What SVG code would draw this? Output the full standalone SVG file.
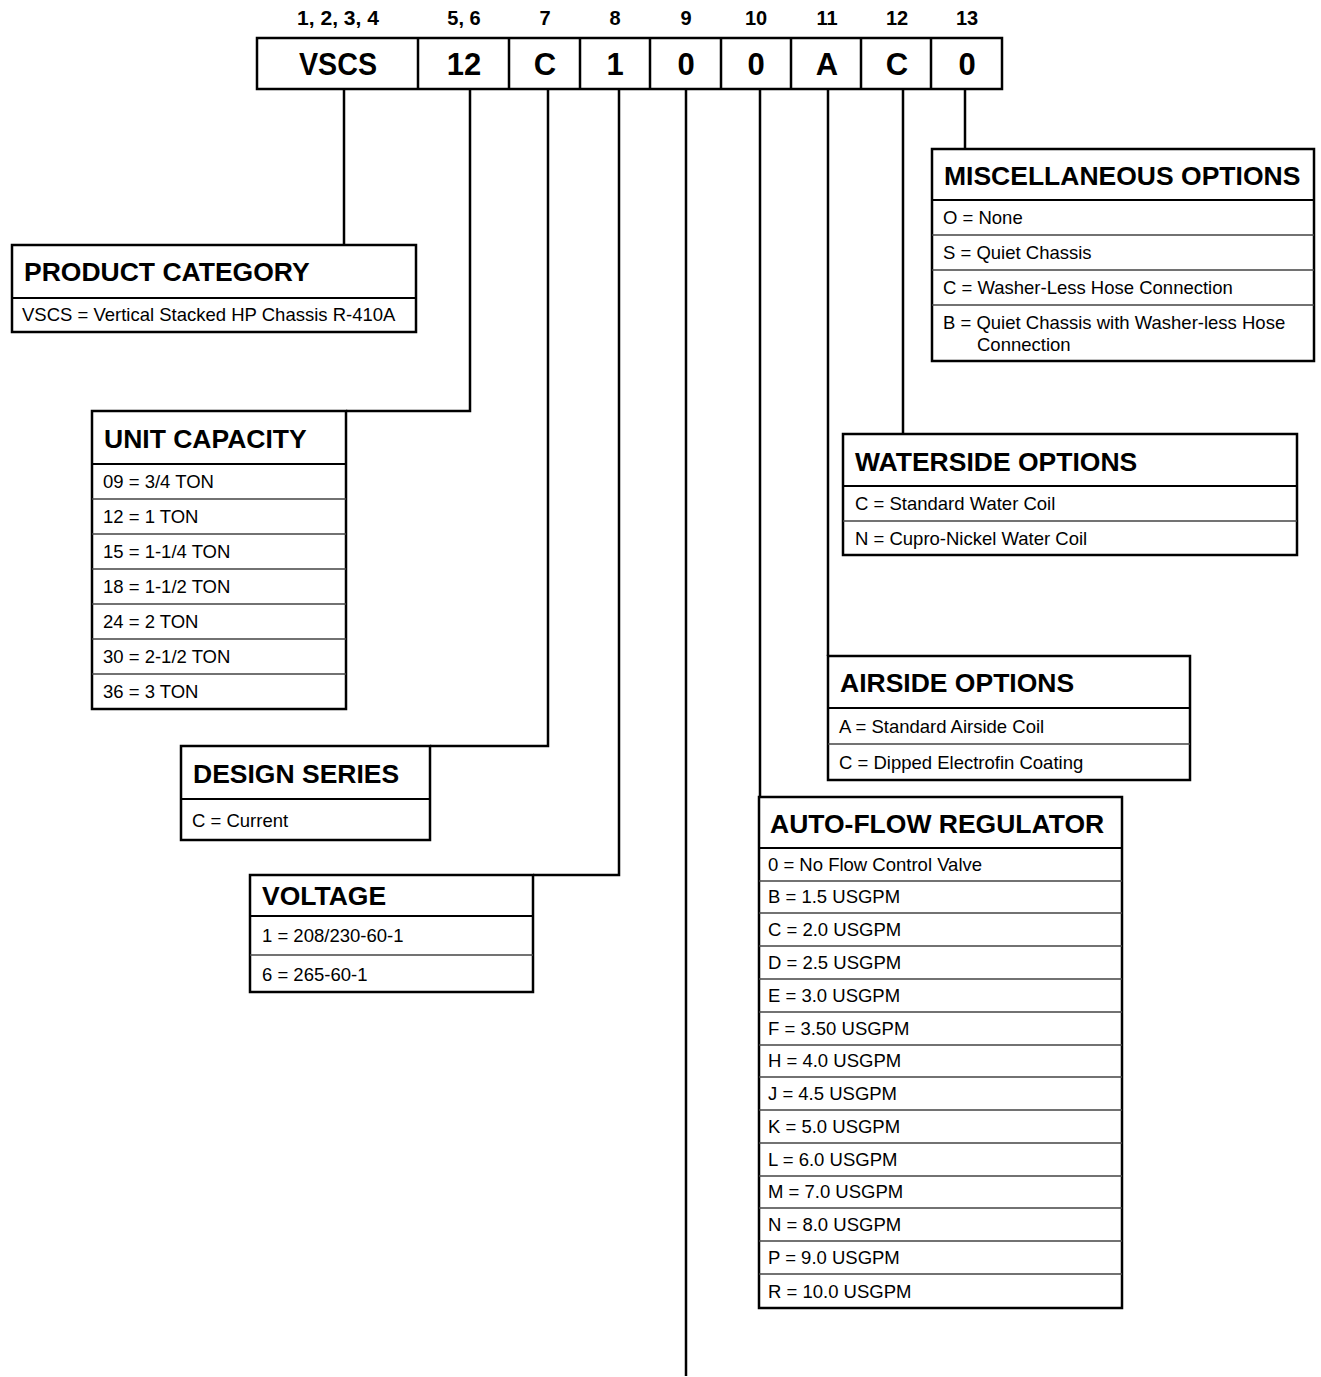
<svg xmlns="http://www.w3.org/2000/svg" width="1321" height="1377" viewBox="0 0 1321 1377">
<style>
text{font-family:"Liberation Sans",Arial,sans-serif;fill:#000}
.pos{font-size:20px;font-weight:bold;text-anchor:middle}
.val{font-size:31px;font-weight:bold;text-anchor:middle}
.ttl{font-size:26.5px;font-weight:bold}
.row{font-size:18.5px}
.box{fill:#fff;stroke:#000;stroke-width:2.5}
.sep{stroke:#000;stroke-width:2}
.div{stroke:#444;stroke-width:1.5}
.con{fill:none;stroke:#000;stroke-width:2.5}
</style>
<rect width="1321" height="1377" fill="#fff"/>
<g id="connectors">
<path class="con" d="M344 89V245"/>
<path class="con" d="M470 89V411H346"/>
<path class="con" d="M548 89V746H430"/>
<path class="con" d="M619 89V875H533"/>
<path class="con" d="M686 89V1376"/>
<path class="con" d="M760 89V797"/>
<path class="con" d="M828 89V656"/>
<path class="con" d="M903 89V434"/>
<path class="con" d="M965 89V149"/>
</g>
<g id="header">
<text class="pos" x="338" y="25" textLength="82" lengthAdjust="spacingAndGlyphs">1, 2, 3, 4</text>
<text class="pos" x="464" y="25">5, 6</text>
<text class="pos" x="545" y="25">7</text>
<text class="pos" x="615" y="25">8</text>
<text class="pos" x="686" y="25">9</text>
<text class="pos" x="756" y="25">10</text>
<text class="pos" x="827" y="25">11</text>
<text class="pos" x="897" y="25">12</text>
<text class="pos" x="967" y="25">13</text>
<rect class="box" x="257" y="38" width="745" height="51"/>
<path class="con" d="M418 38V89M509 38V89M580 38V89M650 38V89M721 38V89M791 38V89M861 38V89M931 38V89"/>
<text class="val" x="338" y="75" textLength="78" lengthAdjust="spacingAndGlyphs">VSCS</text>
<text class="val" x="464" y="75">12</text>
<text class="val" x="545" y="75">C</text>
<text class="val" x="615" y="75">1</text>
<text class="val" x="686" y="75">0</text>
<text class="val" x="756" y="75">0</text>
<text class="val" x="827" y="75">A</text>
<text class="val" x="897" y="75">C</text>
<text class="val" x="967" y="75">0</text>
</g>
<g id="product-category">
<rect class="box" x="12" y="245" width="404" height="87"/>
<line class="sep" x1="12" y1="298" x2="416" y2="298"/>
<text class="ttl" x="24" y="281">PRODUCT CATEGORY</text>
<text class="row" x="22" y="321">VSCS = Vertical Stacked HP Chassis R-410A</text>
</g>
<g id="unit-capacity">
<rect class="box" x="92" y="411" width="254" height="298"/>
<line class="sep" x1="92" y1="464" x2="346" y2="464"/>
<path class="div" d="M92 499H346M92 534H346M92 569H346M92 604H346M92 639H346M92 674H346"/>
<text class="ttl" x="104" y="448">UNIT CAPACITY</text>
<text class="row" x="103" y="488">09 = 3/4 TON</text>
<text class="row" x="103" y="523">12 = 1 TON</text>
<text class="row" x="103" y="558">15 = 1-1/4 TON</text>
<text class="row" x="103" y="593">18 = 1-1/2 TON</text>
<text class="row" x="103" y="628">24 = 2 TON</text>
<text class="row" x="103" y="663">30 = 2-1/2 TON</text>
<text class="row" x="103" y="698">36 = 3 TON</text>
</g>
<g id="design-series">
<rect class="box" x="181" y="746" width="249" height="94"/>
<line class="sep" x1="181" y1="799" x2="430" y2="799"/>
<text class="ttl" x="193" y="783">DESIGN SERIES</text>
<text class="row" x="192" y="827">C = Current</text>
</g>
<g id="voltage">
<rect class="box" x="250" y="875" width="283" height="117"/>
<line class="sep" x1="250" y1="916" x2="533" y2="916"/>
<line class="div" x1="250" y1="955" x2="533" y2="955"/>
<text class="ttl" x="262" y="905">VOLTAGE</text>
<text class="row" x="262" y="942">1 = 208/230-60-1</text>
<text class="row" x="262" y="981">6 = 265-60-1</text>
</g>
<g id="misc-options">
<rect class="box" x="932" y="149" width="382" height="212"/>
<line class="sep" x1="932" y1="200" x2="1314" y2="200"/>
<path class="div" d="M932 235H1314M932 270H1314M932 305H1314"/>
<text class="ttl" x="944" y="185">MISCELLANEOUS OPTIONS</text>
<text class="row" x="943" y="224">O = None</text>
<text class="row" x="943" y="259">S = Quiet Chassis</text>
<text class="row" x="943" y="294">C = Washer-Less Hose Connection</text>
<text class="row" x="943" y="329">B = Quiet Chassis with Washer-less Hose</text>
<text class="row" x="977" y="351">Connection</text>
</g>
<g id="waterside-options">
<rect class="box" x="843" y="434" width="454" height="121"/>
<line class="sep" x1="843" y1="486" x2="1297" y2="486"/>
<line class="div" x1="843" y1="521" x2="1297" y2="521"/>
<text class="ttl" x="855" y="471">WATERSIDE OPTIONS</text>
<text class="row" x="855" y="510">C = Standard Water Coil</text>
<text class="row" x="855" y="545">N = Cupro-Nickel Water Coil</text>
</g>
<g id="airside-options">
<rect class="box" x="828" y="656" width="362" height="124"/>
<line class="sep" x1="828" y1="708" x2="1190" y2="708"/>
<line class="div" x1="828" y1="744" x2="1190" y2="744"/>
<text class="ttl" x="840" y="692">AIRSIDE OPTIONS</text>
<text class="row" x="839" y="733">A = Standard Airside Coil</text>
<text class="row" x="839" y="769">C = Dipped Electrofin Coating</text>
</g>
<g id="auto-flow-regulator">
<rect class="box" x="759" y="797" width="363" height="511"/>
<line class="sep" x1="759" y1="848" x2="1122" y2="848"/>
<path class="div" d="M759 881H1122M759 913H1122M759 946H1122M759 979H1122M759 1012H1122M759 1045H1122M759 1077H1122M759 1110H1122M759 1143H1122M759 1176H1122M759 1208H1122M759 1241H1122M759 1274H1122"/>
<text class="ttl" x="770" y="833">AUTO-FLOW REGULATOR</text>
<text class="row" x="768" y="871">0 = No Flow Control Valve</text>
<text class="row" x="768" y="903">B = 1.5 USGPM</text>
<text class="row" x="768" y="936">C = 2.0 USGPM</text>
<text class="row" x="768" y="969">D = 2.5 USGPM</text>
<text class="row" x="768" y="1002">E = 3.0 USGPM</text>
<text class="row" x="768" y="1035">F = 3.50 USGPM</text>
<text class="row" x="768" y="1067">H = 4.0 USGPM</text>
<text class="row" x="768" y="1100">J = 4.5 USGPM</text>
<text class="row" x="768" y="1133">K = 5.0 USGPM</text>
<text class="row" x="768" y="1166">L = 6.0 USGPM</text>
<text class="row" x="768" y="1198">M = 7.0 USGPM</text>
<text class="row" x="768" y="1231">N = 8.0 USGPM</text>
<text class="row" x="768" y="1264">P = 9.0 USGPM</text>
<text class="row" x="768" y="1298">R = 10.0 USGPM</text>
</g>
</svg>
